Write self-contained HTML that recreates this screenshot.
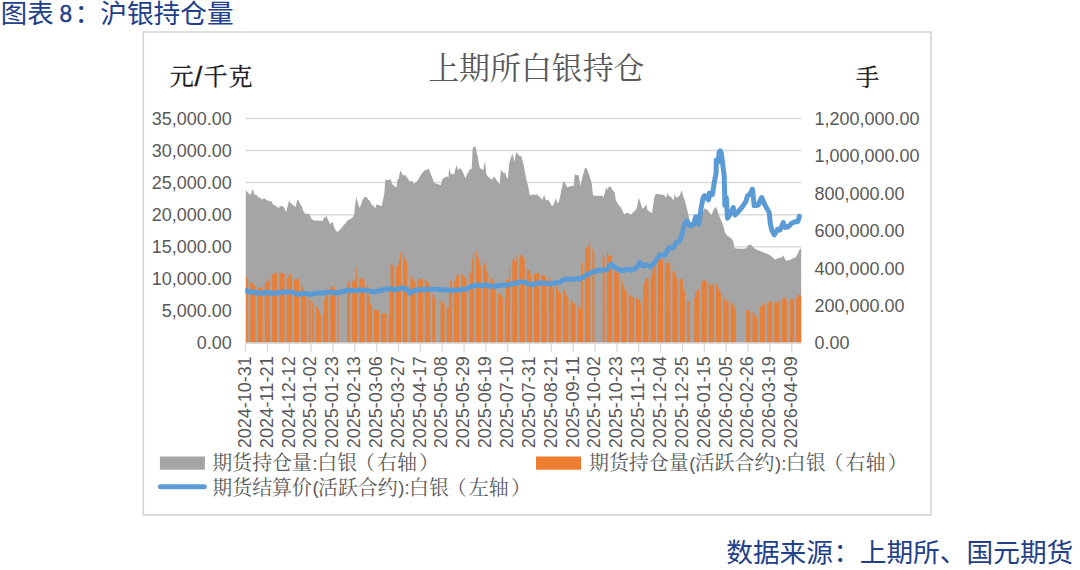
<!DOCTYPE html>
<html lang="zh-CN">
<head>
<meta charset="utf-8">
<title>图表 8：沪银持仓量</title>
<style>
html,body{margin:0;padding:0;background:#fff;}
body{width:1080px;height:570px;overflow:hidden;position:relative;font-family:"Liberation Sans",sans-serif;}
svg{position:absolute;left:0;top:0;display:block;}
</style>
</head>
<body>
<svg width="1080" height="570" viewBox="0 0 1080 570">
<rect x="143.3" y="32.0" width="787.8" height="483.0" fill="#fff" stroke="#D3D3D3" stroke-width="1.5"/>
<line x1="245.6" x2="801.2" y1="118.40" y2="118.40" stroke="#D9D9D9" stroke-width="1.5"/>
<line x1="245.6" x2="801.2" y1="150.50" y2="150.50" stroke="#D9D9D9" stroke-width="1.5"/>
<line x1="245.6" x2="801.2" y1="182.60" y2="182.60" stroke="#D9D9D9" stroke-width="1.5"/>
<line x1="245.6" x2="801.2" y1="214.70" y2="214.70" stroke="#D9D9D9" stroke-width="1.5"/>
<line x1="245.6" x2="801.2" y1="246.80" y2="246.80" stroke="#D9D9D9" stroke-width="1.5"/>
<line x1="245.6" x2="801.2" y1="278.90" y2="278.90" stroke="#D9D9D9" stroke-width="1.5"/>
<line x1="245.6" x2="801.2" y1="311.00" y2="311.00" stroke="#D9D9D9" stroke-width="1.5"/>
<line x1="245.6" x2="801.2" y1="343.10" y2="343.10" stroke="#D9D9D9" stroke-width="1.5"/>
<path d="M245.6 342.5L245.8 190.0L248.3 193.3L250.8 195.0L252.0 190.0L253.3 190.0L254.2 194.2L256.7 195.0L259.2 198.0L260.8 197.5L261.7 199.7L264.2 198.3L266.7 200.0L269.2 201.3L271.7 201.3L273.3 205.0L275.0 205.0L276.7 206.7L278.7 208.0L280.0 206.3L282.5 206.0L284.2 208.0L286.3 212.0L287.5 206.7L289.2 200.3L290.8 203.3L293.0 205.0L295.8 207.0L297.0 200.3L298.3 200.0L300.3 204.2L302.0 207.0L303.3 211.3L305.3 213.7L309.2 213.7L310.8 217.5L312.5 220.0L315.8 220.8L317.0 220.0L318.3 221.3L320.0 220.3L322.5 221.3L324.2 217.0L325.3 218.0L326.3 215.3L328.0 219.7L330.0 224.2L331.7 222.5L332.8 222.0L334.2 227.5L335.8 230.8L337.5 232.0L340.0 229.7L343.3 225.8L346.7 221.7L348.0 220.0L350.0 219.2L352.5 217.5L354.2 214.7L355.0 206.7L356.2 196.7L357.5 201.7L359.2 207.5L360.3 206.7L362.5 200.0L364.2 197.2L367.0 197.2L368.3 200.0L370.0 200.8L371.3 204.2L373.3 205.8L375.3 208.3L376.7 204.2L379.2 205.3L381.7 206.0L383.0 200.0L384.3 193.3L385.3 179.7L387.5 180.0L389.2 179.7L390.8 179.3L392.0 183.7L393.3 185.3L395.8 187.0L396.7 187.0L397.5 179.2L398.7 178.7L400.3 170.3L401.7 173.3L403.3 175.5L405.0 175.0L406.7 177.0L408.3 179.2L410.0 182.0L412.0 180.5L413.7 183.7L416.7 181.7L418.3 179.2L420.8 174.7L423.3 171.7L425.3 169.7L426.7 170.3L428.0 168.3L429.2 169.7L430.8 174.2L432.5 178.3L434.2 183.0L436.7 183.8L439.2 184.7L440.8 185.0L442.5 178.7L444.2 178.0L445.8 177.0L447.0 176.3L448.3 178.0L449.3 167.5L450.5 173.3L452.0 174.2L454.2 174.2L455.3 169.2L456.7 165.0L458.0 170.0L459.7 168.7L460.8 168.3L462.5 171.7L464.2 175.3L465.3 178.3L467.5 173.3L470.0 169.2L471.7 168.7L472.7 148.0L474.2 147.0L475.5 146.3L476.7 153.3L477.7 155.8L478.7 163.3L480.0 168.0L482.0 169.2L483.3 170.0L485.0 160.8L486.3 174.2L488.3 177.0L490.8 178.7L492.0 179.7L494.2 176.3L495.8 179.2L498.3 182.5L499.7 184.7L500.8 170.0L502.5 171.7L504.2 173.3L505.3 172.0L506.7 178.0L507.7 178.7L509.2 163.3L510.8 157.5L512.5 154.2L513.3 156.7L514.3 161.7L516.3 152.0L518.0 154.2L519.2 155.8L521.3 156.3L522.5 160.8L523.8 165.8L525.0 172.5L526.7 180.8L528.3 186.7L529.7 194.7L531.7 195.3L533.3 194.2L535.0 195.0L537.0 194.2L538.3 195.8L540.0 197.0L542.5 200.0L543.7 195.8L544.7 196.3L545.8 200.3L548.3 200.0L550.0 202.5L552.0 206.3L553.7 204.2L555.8 198.3L557.5 203.3L558.3 203.0L560.0 197.5L561.7 188.3L563.3 181.3L564.7 182.0L565.8 184.7L567.5 187.5L570.0 186.3L572.5 185.8L573.7 186.3L574.7 174.2L576.7 175.0L578.7 175.3L580.3 186.3L582.5 176.7L585.0 168.0L586.7 168.3L588.3 172.5L590.0 177.5L591.7 183.3L593.0 195.3L595.8 195.8L599.2 195.8L602.5 195.8L603.7 197.5L605.0 191.7L606.3 187.0L607.5 190.0L608.7 186.7L610.8 186.7L612.5 190.0L614.7 192.5L615.8 200.0L617.5 203.3L619.2 205.8L620.8 207.5L622.5 210.8L624.2 214.7L625.8 213.0L628.3 213.0L630.0 214.2L630.8 215.0L632.5 213.0L635.0 210.8L636.7 208.3L638.0 201.7L638.7 197.5L640.3 202.5L642.5 208.7L644.2 207.5L646.3 204.2L647.5 210.0L650.0 212.0L652.0 213.0L653.0 206.7L654.2 198.3L655.3 194.7L657.0 193.7L659.2 194.2L661.7 194.7L664.2 194.7L665.3 197.5L666.7 196.7L667.3 192.5L668.3 195.0L670.8 197.0L672.5 198.7L673.7 200.8L674.5 193.7L675.8 197.5L678.3 196.7L680.0 194.7L681.7 190.0L683.0 195.8L684.7 200.0L686.3 205.8L688.0 213.3L690.0 222.0L698.0 222.0L702.0 213.0L705.0 208.3L707.5 210.0L710.0 213.3L711.7 215.0L713.3 210.0L715.8 206.7L717.5 210.8L719.2 215.8L721.3 220.8L723.3 225.8L724.7 231.7L726.7 235.0L729.2 237.0L731.7 238.7L733.3 241.7L734.7 248.3L738.3 248.7L743.3 248.7L746.7 248.3L747.5 245.8L749.2 245.0L750.8 244.2L752.5 246.7L755.0 248.7L758.3 250.3L761.7 251.7L765.0 253.0L768.3 254.2L770.8 255.8L773.3 258.0L775.0 259.7L776.7 258.7L779.2 258.0L781.7 257.5L783.3 255.3L784.7 258.7L786.3 260.8L789.2 260.3L791.7 259.2L793.3 258.0L795.8 257.5L797.5 254.2L799.2 250.3L800.8 248.3L801.2 248.3 L801.2 342.5Z" fill="#A5A5A5"/>
<path d="M246.14 342.5V276.7H247.10V342.5ZM247.18 342.5V278.5H248.14V342.5ZM250.30 342.5V282.4H251.26V342.5ZM251.33 342.5V282.8H252.30V342.5ZM252.37 342.5V283.4H253.34V342.5ZM253.41 342.5V284.7H254.38V342.5ZM254.45 342.5V285.6H255.42V342.5ZM257.57 342.5V288.1H258.54V342.5ZM258.61 342.5V288.1H259.58V342.5ZM259.65 342.5V287.7H260.62V342.5ZM260.69 342.5V287.3H261.66V342.5ZM261.73 342.5V286.8H262.70V342.5ZM264.85 342.5V283.7H265.82V342.5ZM265.89 342.5V282.1H266.86V342.5ZM266.93 342.5V280.8H267.90V342.5ZM267.97 342.5V279.5H268.94V342.5ZM269.01 342.5V278.3H269.98V342.5ZM272.13 342.5V274.6H273.10V342.5ZM273.17 342.5V274.0H274.14V342.5ZM274.21 342.5V273.3H275.18V342.5ZM275.25 342.5V272.6H276.21V342.5ZM276.29 342.5V273.0H277.25V342.5ZM279.41 342.5V273.0H280.37V342.5ZM280.45 342.5V273.0H281.41V342.5ZM281.49 342.5V273.1H282.45V342.5ZM282.53 342.5V273.6H283.49V342.5ZM283.57 342.5V274.1H284.53V342.5ZM286.68 342.5V277.9H287.65V342.5ZM287.72 342.5V276.9H288.69V342.5ZM288.76 342.5V274.9H289.73V342.5ZM289.80 342.5V273.4H290.77V342.5ZM290.84 342.5V274.8H291.81V342.5ZM293.96 342.5V279.3H294.93V342.5ZM295.00 342.5V279.8H295.97V342.5ZM296.04 342.5V279.5H297.01V342.5ZM297.08 342.5V278.8H298.05V342.5ZM298.12 342.5V278.8H299.09V342.5ZM301.24 342.5V284.3H302.21V342.5ZM302.28 342.5V286.9H303.25V342.5ZM303.32 342.5V290.1H304.29V342.5ZM304.36 342.5V293.5H305.33V342.5ZM305.40 342.5V296.7H306.37V342.5ZM308.52 342.5V298.3H309.49V342.5ZM309.56 342.5V299.5H310.53V342.5ZM311.64 342.5V302.1H312.60V342.5ZM312.68 342.5V303.2H313.64V342.5ZM315.80 342.5V306.3H316.76V342.5ZM316.84 342.5V307.6H317.80V342.5ZM317.88 342.5V309.2H318.84V342.5ZM318.92 342.5V311.3H319.88V342.5ZM319.96 342.5V314.7H320.92V342.5ZM323.07 342.5V312.3H324.04V342.5ZM324.11 342.5V299.8H325.08V342.5ZM325.15 342.5V293.3H326.12V342.5ZM326.19 342.5V290.5H327.16V342.5ZM327.23 342.5V288.2H328.20V342.5ZM330.35 342.5V287.0H331.32V342.5ZM331.39 342.5V286.7H332.36V342.5ZM332.43 342.5V286.7H333.40V342.5ZM333.47 342.5V286.7H334.44V342.5ZM334.51 342.5V288.3H335.48V342.5ZM337.63 342.5V296.1H338.60V342.5ZM346.99 342.5V283.4H347.95V342.5ZM348.03 342.5V282.3H348.99V342.5ZM349.07 342.5V281.6H350.03V342.5ZM352.19 342.5V280.9H353.15V342.5ZM353.23 342.5V281.4H354.19V342.5ZM354.27 342.5V281.0H355.23V342.5ZM355.30 342.5V277.1H356.27V342.5ZM356.34 342.5V268.0H357.31V342.5ZM359.46 342.5V278.7H360.43V342.5ZM360.50 342.5V278.4H361.47V342.5ZM361.54 342.5V278.1H362.51V342.5ZM362.58 342.5V279.0H363.55V342.5ZM363.62 342.5V280.7H364.59V342.5ZM366.74 342.5V285.0H367.71V342.5ZM367.78 342.5V286.6H368.75V342.5ZM368.82 342.5V296.4H369.79V342.5ZM369.86 342.5V303.8H370.83V342.5ZM370.90 342.5V305.4H371.87V342.5ZM374.02 342.5V309.5H374.99V342.5ZM375.06 342.5V310.5H376.03V342.5ZM376.10 342.5V310.5H377.07V342.5ZM377.14 342.5V310.1H378.11V342.5ZM378.18 342.5V310.6H379.15V342.5ZM381.30 342.5V313.3H382.26V342.5ZM382.34 342.5V313.1H383.30V342.5ZM383.38 342.5V313.1H384.34V342.5ZM384.42 342.5V313.2H385.38V342.5ZM385.46 342.5V313.4H386.42V342.5ZM388.58 342.5V315.8H389.54V342.5ZM389.62 342.5V286.9H390.58V342.5ZM390.65 342.5V264.3H391.62V342.5ZM391.69 342.5V264.8H392.66V342.5ZM392.73 342.5V265.9H393.70V342.5ZM395.85 342.5V267.7H396.82V342.5ZM396.89 342.5V267.5H397.86V342.5ZM397.93 342.5V263.4H398.90V342.5ZM398.97 342.5V257.9H399.94V342.5ZM400.01 342.5V252.2H400.98V342.5ZM403.13 342.5V255.1H404.10V342.5ZM404.17 342.5V257.5H405.14V342.5ZM405.21 342.5V259.8H406.18V342.5ZM406.25 342.5V262.0H407.22V342.5ZM410.41 342.5V275.9H411.38V342.5ZM411.45 342.5V277.5H412.42V342.5ZM412.49 342.5V279.0H413.46V342.5ZM413.53 342.5V280.4H414.50V342.5ZM414.57 342.5V281.3H415.53V342.5ZM417.69 342.5V280.2H418.65V342.5ZM418.73 342.5V279.1H419.69V342.5ZM419.77 342.5V278.6H420.73V342.5ZM420.81 342.5V278.7H421.77V342.5ZM421.85 342.5V279.2H422.81V342.5ZM424.96 342.5V279.3H425.93V342.5ZM426.00 342.5V280.6H426.97V342.5ZM427.04 342.5V282.1H428.01V342.5ZM428.08 342.5V283.6H429.05V342.5ZM429.12 342.5V284.6H430.09V342.5ZM432.24 342.5V293.7H433.21V342.5ZM433.28 342.5V296.8H434.25V342.5ZM434.32 342.5V298.2H435.29V342.5ZM440.56 342.5V299.9H441.53V342.5ZM441.60 342.5V300.9H442.57V342.5ZM442.64 342.5V302.2H443.61V342.5ZM443.68 342.5V303.5H444.65V342.5ZM446.80 342.5V306.3H447.77V342.5ZM447.84 342.5V307.8H448.81V342.5ZM448.88 342.5V293.1H449.84V342.5ZM449.92 342.5V280.2H450.88V342.5ZM450.96 342.5V282.5H451.92V342.5ZM454.08 342.5V281.3H455.04V342.5ZM455.12 342.5V280.2H456.08V342.5ZM456.16 342.5V276.0H457.12V342.5ZM457.20 342.5V272.2H458.16V342.5ZM458.24 342.5V275.0H459.20V342.5ZM461.35 342.5V274.3H462.32V342.5ZM462.39 342.5V274.8H463.36V342.5ZM463.43 342.5V276.1H464.40V342.5ZM464.47 342.5V277.9H465.44V342.5ZM465.51 342.5V279.5H466.48V342.5ZM469.67 342.5V273.2H470.64V342.5ZM470.71 342.5V272.6H471.68V342.5ZM471.75 342.5V259.3H472.72V342.5ZM472.79 342.5V252.7H473.76V342.5ZM475.91 342.5V251.6H476.88V342.5ZM476.95 342.5V255.6H477.92V342.5ZM477.99 342.5V258.6H478.96V342.5ZM479.03 342.5V263.4H480.00V342.5ZM480.07 342.5V265.8H481.04V342.5ZM483.19 342.5V265.2H484.15V342.5ZM484.23 342.5V263.2H485.19V342.5ZM485.27 342.5V262.3H486.23V342.5ZM486.31 342.5V271.3H487.27V342.5ZM487.35 342.5V275.2H488.31V342.5ZM490.47 342.5V278.0H491.43V342.5ZM491.51 342.5V278.9H492.47V342.5ZM492.55 342.5V279.7H493.51V342.5ZM493.59 342.5V284.0H494.55V342.5ZM494.62 342.5V289.3H495.59V342.5ZM497.74 342.5V292.4H498.71V342.5ZM498.78 342.5V293.9H499.75V342.5ZM499.82 342.5V294.4H500.79V342.5ZM500.86 342.5V292.6H501.83V342.5ZM501.90 342.5V296.9H502.87V342.5ZM505.02 342.5V296.6H505.99V342.5ZM506.06 342.5V280.1H507.03V342.5ZM507.10 342.5V280.5H508.07V342.5ZM508.14 342.5V277.7H509.11V342.5ZM509.18 342.5V267.8H510.15V342.5ZM512.30 342.5V259.2H513.27V342.5ZM513.34 342.5V259.5H514.31V342.5ZM514.38 342.5V261.4H515.35V342.5ZM515.42 342.5V261.1H516.39V342.5ZM516.46 342.5V255.4H517.43V342.5ZM519.58 342.5V255.0H520.54V342.5ZM520.62 342.5V254.3H521.58V342.5ZM521.66 342.5V255.9H522.62V342.5ZM522.70 342.5V257.6H523.66V342.5ZM523.74 342.5V259.1H524.70V342.5ZM526.86 342.5V269.3H527.82V342.5ZM527.90 342.5V269.8H528.86V342.5ZM528.93 342.5V270.0H529.90V342.5ZM529.97 342.5V273.4H530.94V342.5ZM531.01 342.5V279.7H531.98V342.5ZM534.13 342.5V274.3H535.10V342.5ZM535.17 342.5V273.7H536.14V342.5ZM536.21 342.5V273.2H537.18V342.5ZM537.25 342.5V273.1H538.22V342.5ZM538.29 342.5V273.4H539.26V342.5ZM541.41 342.5V275.6H542.38V342.5ZM542.45 342.5V275.3H543.42V342.5ZM543.49 342.5V275.0H544.46V342.5ZM544.53 342.5V276.0H545.50V342.5ZM545.57 342.5V278.3H546.54V342.5ZM548.69 342.5V277.9H549.66V342.5ZM549.73 342.5V278.7H550.70V342.5ZM550.77 342.5V282.9H551.74V342.5ZM551.81 342.5V287.1H552.78V342.5ZM552.85 342.5V287.3H553.81V342.5ZM555.97 342.5V286.0H556.93V342.5ZM557.01 342.5V287.5H557.97V342.5ZM558.05 342.5V290.4H559.01V342.5ZM559.09 342.5V291.4H560.05V342.5ZM560.13 342.5V293.5H561.09V342.5ZM563.25 342.5V288.8H564.21V342.5ZM564.28 342.5V290.3H565.25V342.5ZM565.32 342.5V293.3H566.29V342.5ZM566.36 342.5V295.4H567.33V342.5ZM567.40 342.5V297.4H568.37V342.5ZM570.52 342.5V300.6H571.49V342.5ZM571.56 342.5V301.5H572.53V342.5ZM572.60 342.5V302.6H573.57V342.5ZM573.64 342.5V304.1H574.61V342.5ZM574.68 342.5V302.7H575.65V342.5ZM577.80 342.5V305.8H578.77V342.5ZM578.84 342.5V307.1H579.81V342.5ZM579.88 342.5V308.8H580.85V342.5ZM580.92 342.5V268.8H581.89V342.5ZM581.96 342.5V262.8H582.93V342.5ZM585.08 342.5V248.6H586.05V342.5ZM586.12 342.5V247.6H587.09V342.5ZM587.16 342.5V247.0H588.13V342.5ZM588.20 342.5V245.3H589.16V342.5ZM589.24 342.5V241.4H590.20V342.5ZM592.36 342.5V248.0H593.32V342.5ZM593.40 342.5V252.7H594.36V342.5ZM602.75 342.5V254.8H603.72V342.5ZM603.79 342.5V257.2H604.76V342.5ZM606.91 342.5V252.5H607.88V342.5ZM607.95 342.5V256.2H608.92V342.5ZM608.99 342.5V255.2H609.96V342.5ZM610.03 342.5V255.0H611.00V342.5ZM611.07 342.5V255.6H612.04V342.5ZM614.19 342.5V265.5H615.16V342.5ZM615.23 342.5V271.8H616.20V342.5ZM616.27 342.5V272.5H617.24V342.5ZM617.31 342.5V272.9H618.28V342.5ZM618.35 342.5V273.6H619.32V342.5ZM621.47 342.5V279.1H622.44V342.5ZM622.51 342.5V283.5H623.47V342.5ZM623.55 342.5V287.2H624.51V342.5ZM624.59 342.5V289.7H625.55V342.5ZM625.63 342.5V291.0H626.59V342.5ZM628.75 342.5V294.4H629.71V342.5ZM629.79 342.5V295.0H630.75V342.5ZM630.83 342.5V296.5H631.79V342.5ZM631.87 342.5V297.0H632.83V342.5ZM632.90 342.5V297.0H633.87V342.5ZM636.02 342.5V297.7H636.99V342.5ZM637.06 342.5V298.7H638.03V342.5ZM638.10 342.5V299.5H639.07V342.5ZM639.14 342.5V300.0H640.11V342.5ZM640.18 342.5V302.9H641.15V342.5ZM643.30 342.5V284.7H644.27V342.5ZM644.34 342.5V282.1H645.31V342.5ZM645.38 342.5V279.5H646.35V342.5ZM646.42 342.5V277.9H647.39V342.5ZM647.46 342.5V277.9H648.43V342.5ZM650.58 342.5V278.3H651.55V342.5ZM651.62 342.5V273.9H652.59V342.5ZM652.66 342.5V269.7H653.63V342.5ZM653.70 342.5V266.6H654.67V342.5ZM654.74 342.5V265.2H655.71V342.5ZM657.86 342.5V259.2H658.82V342.5ZM658.90 342.5V259.2H659.86V342.5ZM659.94 342.5V259.2H660.90V342.5ZM660.98 342.5V259.2H661.94V342.5ZM662.02 342.5V259.8H662.98V342.5ZM665.14 342.5V262.0H666.10V342.5ZM666.18 342.5V263.3H667.14V342.5ZM667.22 342.5V259.8H668.18V342.5ZM668.25 342.5V262.9H669.22V342.5ZM669.29 342.5V265.0H670.26V342.5ZM672.41 342.5V271.4H673.38V342.5ZM673.45 342.5V271.4H674.42V342.5ZM674.49 342.5V271.0H675.46V342.5ZM675.53 342.5V276.0H676.50V342.5ZM676.57 342.5V278.5H677.54V342.5ZM679.69 342.5V279.2H680.66V342.5ZM680.73 342.5V278.9H681.70V342.5ZM681.77 342.5V279.0H682.74V342.5ZM682.81 342.5V287.2H683.78V342.5ZM683.85 342.5V290.6H684.82V342.5ZM686.97 342.5V301.0H687.94V342.5ZM688.01 342.5V301.3H688.98V342.5ZM689.05 342.5V301.6H690.02V342.5ZM694.25 342.5V298.0H695.21V342.5ZM695.29 342.5V292.0H696.25V342.5ZM696.33 342.5V291.2H697.29V342.5ZM697.37 342.5V290.3H698.33V342.5ZM698.41 342.5V288.7H699.37V342.5ZM701.53 342.5V281.7H702.49V342.5ZM702.56 342.5V280.4H703.53V342.5ZM703.60 342.5V279.5H704.57V342.5ZM704.64 342.5V279.5H705.61V342.5ZM705.68 342.5V282.1H706.65V342.5ZM708.80 342.5V282.7H709.77V342.5ZM709.84 342.5V284.2H710.81V342.5ZM710.88 342.5V285.4H711.85V342.5ZM711.92 342.5V285.3H712.89V342.5ZM712.96 342.5V284.1H713.93V342.5ZM716.08 342.5V283.8H717.05V342.5ZM717.12 342.5V285.3H718.09V342.5ZM718.16 342.5V288.4H719.13V342.5ZM719.20 342.5V291.1H720.17V342.5ZM720.24 342.5V293.5H721.21V342.5ZM723.36 342.5V295.7H724.33V342.5ZM724.40 342.5V299.4H725.37V342.5ZM725.44 342.5V300.5H726.41V342.5ZM726.48 342.5V300.9H727.44V342.5ZM727.52 342.5V301.2H728.48V342.5ZM730.64 342.5V302.2H731.60V342.5ZM731.68 342.5V302.7H732.64V342.5ZM732.72 342.5V304.0H733.68V342.5ZM733.76 342.5V307.0H734.72V342.5ZM734.80 342.5V309.9H735.76V342.5ZM746.23 342.5V310.0H747.20V342.5ZM747.27 342.5V309.2H748.24V342.5ZM748.31 342.5V310.7H749.28V342.5ZM749.35 342.5V311.7H750.32V342.5ZM752.47 342.5V311.7H753.44V342.5ZM753.51 342.5V313.1H754.48V342.5ZM754.55 342.5V315.2H755.52V342.5ZM755.59 342.5V316.8H756.56V342.5ZM756.63 342.5V318.0H757.60V342.5ZM759.75 342.5V307.6H760.72V342.5ZM760.79 342.5V306.2H761.75V342.5ZM761.83 342.5V304.9H762.79V342.5ZM762.87 342.5V304.2H763.83V342.5ZM763.91 342.5V303.6H764.87V342.5ZM767.03 342.5V302.8H767.99V342.5ZM768.07 342.5V302.5H769.03V342.5ZM769.11 342.5V301.9H770.07V342.5ZM770.15 342.5V301.3H771.11V342.5ZM771.19 342.5V301.0H772.15V342.5ZM774.30 342.5V302.3H775.27V342.5ZM775.34 342.5V303.3H776.31V342.5ZM776.38 342.5V302.6H777.35V342.5ZM777.42 342.5V301.9H778.39V342.5ZM778.46 342.5V301.3H779.43V342.5ZM781.58 342.5V299.2H782.55V342.5ZM782.62 342.5V298.5H783.59V342.5ZM783.66 342.5V297.5H784.63V342.5ZM784.70 342.5V298.3H785.67V342.5ZM785.74 342.5V299.8H786.71V342.5ZM789.90 342.5V299.6H790.87V342.5ZM790.94 342.5V299.2H791.91V342.5ZM791.98 342.5V299.2H792.95V342.5ZM793.02 342.5V299.2H793.99V342.5ZM796.14 342.5V297.7H797.10V342.5ZM797.18 342.5V296.3H798.14V342.5ZM798.22 342.5V294.8H799.18V342.5ZM799.26 342.5V294.3H800.22V342.5ZM800.30 342.5V295.8H801.20V342.5Z" fill="#ED7D31"/>
<clipPath id="pc"><rect x="245.2" y="100" width="565.6" height="260"/></clipPath>
<path d="M245.7 290.8L250.0 291.7L255.0 292.5L261.7 293.3L266.7 292.5L273.3 293.3L280.0 292.5L288.3 291.7L293.3 292.5L297.5 294.2L303.3 293.3L310.0 294.2L316.7 293.0L323.3 293.0L330.0 292.0L336.7 293.0L343.3 291.3L348.3 290.3L355.0 290.8L360.0 290.0L366.7 290.3L373.3 292.0L380.0 290.8L385.0 289.2L390.0 288.7L395.0 289.7L401.7 288.0L406.7 289.2L410.0 293.0L415.0 290.3L420.0 289.7L426.7 289.2L435.0 289.2L443.3 289.7L451.7 290.3L460.0 289.7L466.7 288.7L471.7 286.3L476.7 285.0L481.7 285.8L485.8 284.7L490.0 286.3L495.0 286.3L500.0 285.3L505.0 285.3L510.0 284.2L515.0 283.3L520.0 282.0L523.3 282.0L528.3 283.7L532.5 284.7L538.3 283.0L543.3 283.0L550.0 283.7L555.0 283.0L560.0 282.0L564.2 279.2L568.3 279.2L573.3 279.2L578.3 278.3L580.0 279.2L586.7 275.0L593.3 271.7L600.0 270.3L606.7 269.7L610.8 264.2L615.8 268.0L621.7 270.8L626.7 269.2L631.7 270.3L636.7 267.5L639.7 262.5L643.3 265.8L646.7 265.0L650.8 266.7L655.0 261.7L659.7 255.3L665.0 255.0L669.2 247.5L673.3 248.0L675.8 243.0L679.2 241.3L681.7 235.0L684.2 225.0L686.7 220.8L690.0 225.8L693.3 225.0L695.8 216.7L698.7 224.2L700.8 210.0L703.0 198.1L704.6 195.7L706.6 198.1L708.5 199.9L709.3 193.3L710.9 195.1L712.4 194.5L713.9 184.8L716.1 172.7L716.3 160.0L718.5 161.8L719.0 152.5L720.2 150.9L721.2 152.5L722.4 161.8L724.2 176.3L724.6 190.8L724.8 205.4L726.3 197.5L727.5 218.3L730.0 214.2L733.3 207.5L735.0 215.0L738.3 211.7L742.5 206.7L745.8 201.7L747.5 195.8L750.0 194.2L752.5 189.2L754.2 205.8L758.3 205.0L760.0 200.8L761.7 197.5L764.2 203.3L766.7 208.3L769.2 212.5L770.3 223.3L771.7 230.0L774.2 235.0L777.5 229.2L780.0 230.0L783.3 222.5L785.0 227.5L788.3 226.7L791.7 223.3L795.0 221.7L797.5 221.7L798.7 218.7L799.3 216.3" fill="none" stroke="#5B9BD5" stroke-width="5.0" stroke-linejoin="round" stroke-linecap="round" clip-path="url(#pc)"/>
<line x1="245.6" x2="801.2" y1="343.10" y2="343.10" stroke="#D9D9D9" stroke-width="1.4"/>
<path d="M245.55 343.1V351.7M267.40 343.1V351.7M289.25 343.1V351.7M311.09 343.1V351.7M332.94 343.1V351.7M354.79 343.1V351.7M376.64 343.1V351.7M398.49 343.1V351.7M420.33 343.1V351.7M442.18 343.1V351.7M464.03 343.1V351.7M485.88 343.1V351.7M507.73 343.1V351.7M529.57 343.1V351.7M551.42 343.1V351.7M573.27 343.1V351.7M595.12 343.1V351.7M616.97 343.1V351.7M638.81 343.1V351.7M660.66 343.1V351.7M682.51 343.1V351.7M704.36 343.1V351.7M726.21 343.1V351.7M748.05 343.1V351.7M769.90 343.1V351.7M791.75 343.1V351.7" stroke="#D9D9D9" stroke-width="1.3" fill="none"/>
<g font-family="'Liberation Sans', sans-serif" font-size="17.8" fill="#595959">
<text x="231.8" y="124.7" text-anchor="end" textLength="80.0" lengthAdjust="spacingAndGlyphs">35,000.00</text>
<text x="231.8" y="156.8" text-anchor="end" textLength="80.0" lengthAdjust="spacingAndGlyphs">30,000.00</text>
<text x="231.8" y="188.9" text-anchor="end" textLength="80.0" lengthAdjust="spacingAndGlyphs">25,000.00</text>
<text x="231.8" y="221.0" text-anchor="end" textLength="80.0" lengthAdjust="spacingAndGlyphs">20,000.00</text>
<text x="231.8" y="253.1" text-anchor="end" textLength="80.0" lengthAdjust="spacingAndGlyphs">15,000.00</text>
<text x="231.8" y="285.2" text-anchor="end" textLength="80.0" lengthAdjust="spacingAndGlyphs">10,000.00</text>
<text x="231.8" y="317.3" text-anchor="end" textLength="70.0" lengthAdjust="spacingAndGlyphs">5,000.00</text>
<text x="231.8" y="349.4" text-anchor="end" textLength="35.0" lengthAdjust="spacingAndGlyphs">0.00</text>
<text x="814.6" y="124.7" textLength="105.0" lengthAdjust="spacingAndGlyphs">1,200,000.00</text>
<text x="814.6" y="162.2" textLength="105.0" lengthAdjust="spacingAndGlyphs">1,000,000.00</text>
<text x="814.6" y="199.6" textLength="90.0" lengthAdjust="spacingAndGlyphs">800,000.00</text>
<text x="814.6" y="237.1" textLength="90.0" lengthAdjust="spacingAndGlyphs">600,000.00</text>
<text x="814.6" y="274.5" textLength="90.0" lengthAdjust="spacingAndGlyphs">400,000.00</text>
<text x="814.6" y="311.9" textLength="90.0" lengthAdjust="spacingAndGlyphs">200,000.00</text>
<text x="814.6" y="349.4" textLength="35.0" lengthAdjust="spacingAndGlyphs">0.00</text>
<text transform="translate(250.85 448.2) rotate(-90)" textLength="92" lengthAdjust="spacingAndGlyphs">2024-10-31</text>
<text transform="translate(272.70 448.2) rotate(-90)" textLength="92" lengthAdjust="spacingAndGlyphs">2024-11-21</text>
<text transform="translate(294.55 448.2) rotate(-90)" textLength="92" lengthAdjust="spacingAndGlyphs">2024-12-12</text>
<text transform="translate(316.39 448.2) rotate(-90)" textLength="92" lengthAdjust="spacingAndGlyphs">2025-01-02</text>
<text transform="translate(338.24 448.2) rotate(-90)" textLength="92" lengthAdjust="spacingAndGlyphs">2025-01-23</text>
<text transform="translate(360.09 448.2) rotate(-90)" textLength="92" lengthAdjust="spacingAndGlyphs">2025-02-13</text>
<text transform="translate(381.94 448.2) rotate(-90)" textLength="92" lengthAdjust="spacingAndGlyphs">2025-03-06</text>
<text transform="translate(403.79 448.2) rotate(-90)" textLength="92" lengthAdjust="spacingAndGlyphs">2025-03-27</text>
<text transform="translate(425.63 448.2) rotate(-90)" textLength="92" lengthAdjust="spacingAndGlyphs">2025-04-17</text>
<text transform="translate(447.48 448.2) rotate(-90)" textLength="92" lengthAdjust="spacingAndGlyphs">2025-05-08</text>
<text transform="translate(469.33 448.2) rotate(-90)" textLength="92" lengthAdjust="spacingAndGlyphs">2025-05-29</text>
<text transform="translate(491.18 448.2) rotate(-90)" textLength="92" lengthAdjust="spacingAndGlyphs">2025-06-19</text>
<text transform="translate(513.03 448.2) rotate(-90)" textLength="92" lengthAdjust="spacingAndGlyphs">2025-07-10</text>
<text transform="translate(534.87 448.2) rotate(-90)" textLength="92" lengthAdjust="spacingAndGlyphs">2025-07-31</text>
<text transform="translate(556.72 448.2) rotate(-90)" textLength="92" lengthAdjust="spacingAndGlyphs">2025-08-21</text>
<text transform="translate(578.57 448.2) rotate(-90)" textLength="92" lengthAdjust="spacingAndGlyphs">2025-09-11</text>
<text transform="translate(600.42 448.2) rotate(-90)" textLength="92" lengthAdjust="spacingAndGlyphs">2025-10-02</text>
<text transform="translate(622.27 448.2) rotate(-90)" textLength="92" lengthAdjust="spacingAndGlyphs">2025-10-23</text>
<text transform="translate(644.11 448.2) rotate(-90)" textLength="92" lengthAdjust="spacingAndGlyphs">2025-11-13</text>
<text transform="translate(665.96 448.2) rotate(-90)" textLength="92" lengthAdjust="spacingAndGlyphs">2025-12-04</text>
<text transform="translate(687.81 448.2) rotate(-90)" textLength="92" lengthAdjust="spacingAndGlyphs">2025-12-25</text>
<text transform="translate(709.66 448.2) rotate(-90)" textLength="92" lengthAdjust="spacingAndGlyphs">2026-01-15</text>
<text transform="translate(731.51 448.2) rotate(-90)" textLength="92" lengthAdjust="spacingAndGlyphs">2026-02-05</text>
<text transform="translate(753.35 448.2) rotate(-90)" textLength="92" lengthAdjust="spacingAndGlyphs">2026-02-26</text>
<text transform="translate(775.20 448.2) rotate(-90)" textLength="92" lengthAdjust="spacingAndGlyphs">2026-03-19</text>
<text transform="translate(797.05 448.2) rotate(-90)" textLength="92" lengthAdjust="spacingAndGlyphs">2026-04-09</text>
</g>
<text x="0.8 27.2" y="22.6" font-family="'Liberation Sans', 'Noto Sans CJK SC', sans-serif" font-size="26.4" fill="#22408A">图表</text>
<text x="59.6" y="22.2" font-family="'Liberation Sans', sans-serif" font-size="23.4" textLength="12.6" lengthAdjust="spacingAndGlyphs" fill="#22408A" stroke="#22408A" stroke-width="0.4">8</text>
<text x="74.5" y="22.6" font-family="'Liberation Sans', 'Noto Sans CJK SC', sans-serif" font-size="26.7" fill="#22408A">：</text>
<text x="100.2 126.9 153.6 180.3 207.0" y="22.6" font-family="'Liberation Sans', 'Noto Sans CJK SC', sans-serif" font-size="26.7" fill="#22408A">沪银持仓量</text>
<text x="726.2 752.9 779.6 806.3" y="562.3" font-family="'Liberation Sans', 'Noto Sans CJK SC', sans-serif" font-size="26.7" fill="#22408A">数据来源</text>
<text x="833.5" y="562.3" font-family="'Liberation Sans', 'Noto Sans CJK SC', sans-serif" font-size="26.7" fill="#22408A">：</text>
<text x="859.7 886.4 913.1 939.8 966.5 993.2 1019.9 1046.6" y="562.3" font-family="'Liberation Sans', 'Noto Sans CJK SC', sans-serif" font-size="26.7" fill="#22408A">上期所、国元期货</text>
<text x="428.2 459.1 490.0 520.9 551.8 582.7 613.6" y="78.5" font-family="'Liberation Serif', 'Noto Serif CJK SC', serif" font-size="30.9" fill="#595959">上期所白银持仓</text>
<text x="169.7" y="84.9" font-family="'Liberation Serif', 'Noto Serif CJK SC', serif" font-size="24" fill="#1a1a1a" stroke="#1a1a1a" stroke-width="0.3">元</text>
<text x="194.4" y="86.0" font-family="'Liberation Sans', sans-serif" font-size="28" fill="#1a1a1a" stroke="#1a1a1a" stroke-width="0.3">/</text>
<text x="203.4 228.6" y="84.9" font-family="'Liberation Serif', 'Noto Serif CJK SC', serif" font-size="24" fill="#1a1a1a" stroke="#1a1a1a" stroke-width="0.3">千克</text>
<text x="855.7" y="86.0" font-family="'Liberation Serif', 'Noto Serif CJK SC', serif" font-size="23.6" fill="#1a1a1a" stroke="#1a1a1a" stroke-width="0.3">手</text>
<rect x="159.9" y="456.5" width="45" height="13.2" fill="#A5A5A5"/>
<text x="212.30 232.23 252.16 272.09 292.02" y="470.4" font-family="'Liberation Serif', 'Noto Serif CJK SC', serif" font-size="19.9" fill="#595959">期货持仓量</text>
<text x="312.55" y="469.8" font-family="'Liberation Sans', sans-serif" font-size="18.5" fill="#595959">:</text>
<text x="317.27 337.20 354.94 377.06 396.99 419.11" y="470.4" font-family="'Liberation Serif', 'Noto Serif CJK SC', serif" font-size="19.9" fill="#595959">白银（右轴）</text>
<rect x="536" y="456.5" width="45" height="13.2" fill="#ED7D31"/>
<text x="589.00 608.93 628.86 648.79 668.72" y="470.4" font-family="'Liberation Serif', 'Noto Serif CJK SC', serif" font-size="19.9" fill="#595959">期货持仓量</text>
<text x="689.25" y="469.8" font-family="'Liberation Sans', sans-serif" font-size="18.5" fill="#595959">(</text>
<text x="694.69 714.62 734.55 754.48" y="470.4" font-family="'Liberation Serif', 'Noto Serif CJK SC', serif" font-size="19.9" fill="#595959">活跃合约</text>
<text x="775.01" y="469.8" font-family="'Liberation Sans', sans-serif" font-size="18.5" fill="#595959">):</text>
<text x="785.77 805.70 823.44 845.56 865.49 887.61" y="470.4" font-family="'Liberation Serif', 'Noto Serif CJK SC', serif" font-size="19.9" fill="#595959">白银（右轴）</text>
<line x1="160.5" x2="204.3" y1="486.7" y2="486.7" stroke="#5B9BD5" stroke-width="5" stroke-linecap="round"/>
<text x="212.30 232.23 252.16 272.09 292.02" y="494.5" font-family="'Liberation Serif', 'Noto Serif CJK SC', serif" font-size="19.9" fill="#595959">期货结算价</text>
<text x="312.55" y="493.9" font-family="'Liberation Sans', sans-serif" font-size="18.5" fill="#595959">(</text>
<text x="317.99 337.92 357.85 377.78" y="494.5" font-family="'Liberation Serif', 'Noto Serif CJK SC', serif" font-size="19.9" fill="#595959">活跃合约</text>
<text x="398.31" y="493.9" font-family="'Liberation Sans', sans-serif" font-size="18.5" fill="#595959">):</text>
<text x="409.07 429.00 446.74 468.86 488.79 510.91" y="494.5" font-family="'Liberation Serif', 'Noto Serif CJK SC', serif" font-size="19.9" fill="#595959">白银（左轴）</text>
</svg>
</body>
</html>
